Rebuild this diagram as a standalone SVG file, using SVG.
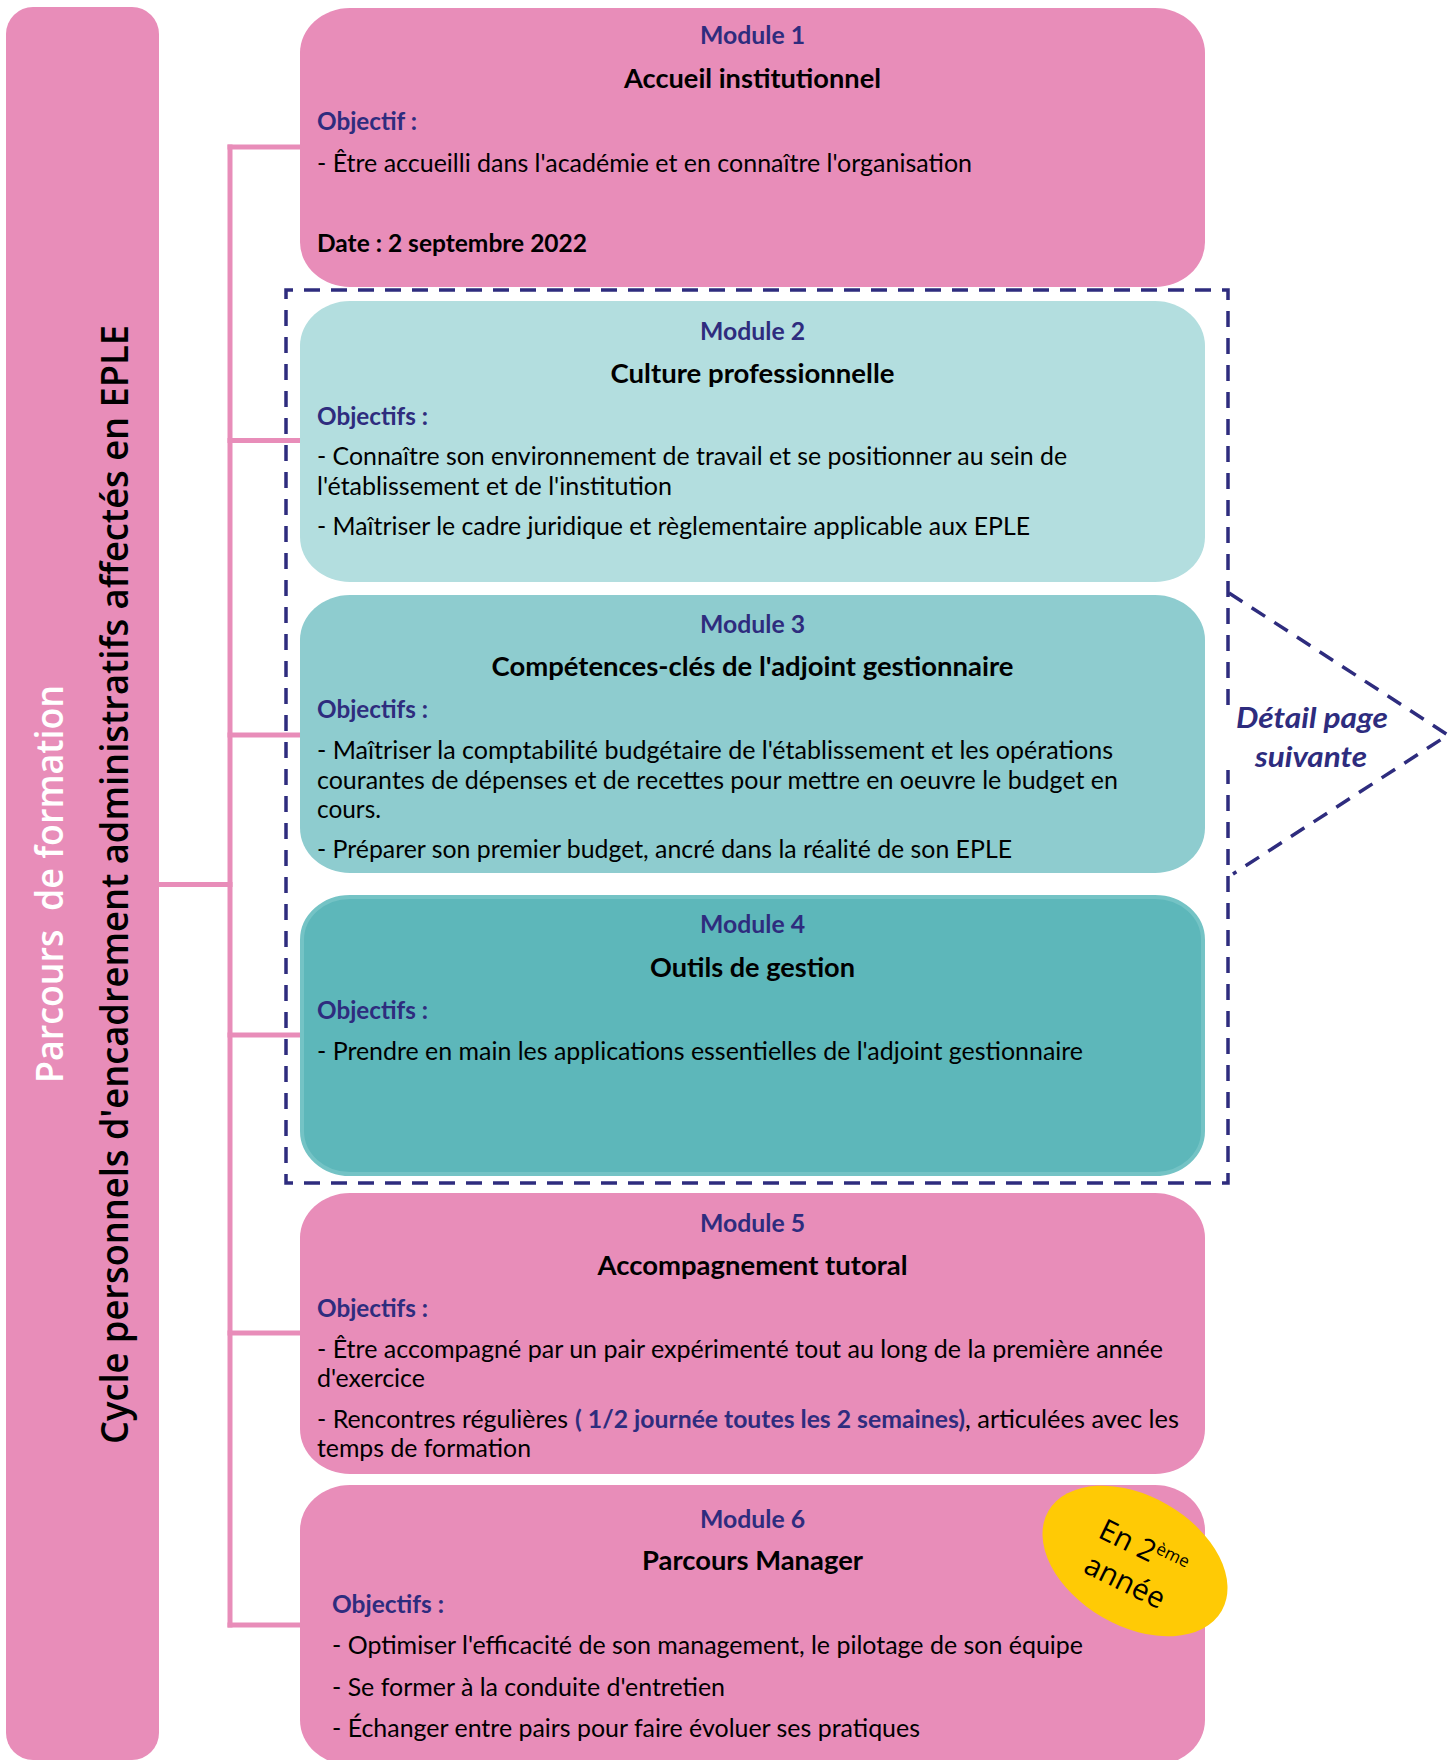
<svg xmlns="http://www.w3.org/2000/svg" width="1452" height="1760" viewBox="0 0 1452 1760">
<style>
.pink{fill:#E88DB9}
.conn{stroke:#E88DB9;stroke-width:5;fill:none;stroke-linecap:square}
.dash{stroke:#2E2C7E;stroke-width:3.5;fill:none;stroke-dasharray:16 11}
.mod{font-family:Lato,"Liberation Sans",sans-serif;font-weight:bold;font-size:24.5px;fill:#2E2C7E;text-anchor:middle}
.ttl{font-family:Lato,"Liberation Sans",sans-serif;font-weight:bold;font-size:27.5px;fill:#000;text-anchor:middle}
.obj{font-family:Lato,"Liberation Sans",sans-serif;font-weight:bold;font-size:24.5px;fill:#2E2C7E}
.txt{font-family:Lato,"Liberation Sans",sans-serif;font-size:24.5px;fill:#000}
.bold{font-weight:bold}
.det{font-family:Lato,"Liberation Sans",sans-serif;font-weight:bold;font-style:italic;font-size:29px;fill:#2E2C7E;text-anchor:middle}
</style>
<rect width="1452" height="1760" fill="#fff"/>

<g id="sidebar">
<rect class="pink" x="6" y="7" width="153" height="1753" rx="27"/>
<text transform="translate(63,884) rotate(-90)" text-anchor="middle" font-family="'Open Sans',sans-serif" font-weight="600" font-size="38" fill="#fff" textLength="398" lengthAdjust="spacingAndGlyphs" xml:space="preserve">Parcours  de formation</text>
<text transform="translate(128,884.5) rotate(-90)" text-anchor="middle" font-family="'Open Sans',sans-serif" font-weight="600" font-size="37" fill="#000" textLength="1119" lengthAdjust="spacingAndGlyphs">Cycle personnels d'encadrement administratifs affectés en EPLE</text>
</g>

<g id="connectors">
<line class="conn" x1="159" y1="884.5" x2="230" y2="884.5"/>
<line class="conn" x1="230" y1="147" x2="230" y2="1625"/>
<line class="conn" x1="230" y1="147" x2="300" y2="147"/>
<line class="conn" x1="230" y1="440.5" x2="300" y2="440.5"/>
<line class="conn" x1="230" y1="735" x2="300" y2="735"/>
<line class="conn" x1="230" y1="1035" x2="300" y2="1035"/>
<line class="conn" x1="230" y1="1333" x2="300" y2="1333"/>
<line class="conn" x1="230" y1="1625" x2="300" y2="1625"/>
</g>

<g id="detail-frame">
<path class="dash" d="M1228,705 V290 H286 V1183 H1228 V770"/>
<path class="dash" d="M1229,593 L1448,735 L1233,874"/>
<text class="det" x="1312" y="728" textLength="152" lengthAdjust="spacingAndGlyphs">Détail page</text>
<text class="det" x="1311" y="767" textLength="112" lengthAdjust="spacingAndGlyphs">suivante</text>
</g>

<g id="module1">
<rect class="pink" x="300" y="8" width="905" height="279" rx="50" ry="45"/>
<text class="mod" x="752.5" y="44" textLength="105" lengthAdjust="spacingAndGlyphs">Module 1</text>
<text class="ttl" x="752.5" y="88" textLength="257" lengthAdjust="spacingAndGlyphs">Accueil institutionnel</text>
<text class="obj" x="317" y="130" textLength="100" lengthAdjust="spacingAndGlyphs">Objectif :</text>
<text class="txt" x="317" y="172" textLength="655" lengthAdjust="spacingAndGlyphs">- Être accueilli dans l'académie et en connaître l'organisation</text>
<text class="txt bold" x="317" y="252" textLength="270" lengthAdjust="spacingAndGlyphs">Date : 2 septembre 2022</text>
</g>

<g id="module2">
<rect x="300" y="301" width="905" height="281" rx="50" ry="45" fill="#B3DEDF"/>
<text class="mod" x="752.5" y="340" textLength="105" lengthAdjust="spacingAndGlyphs">Module 2</text>
<text class="ttl" x="752.5" y="383" textLength="284" lengthAdjust="spacingAndGlyphs">Culture professionnelle</text>
<text class="obj" x="317" y="425" textLength="111" lengthAdjust="spacingAndGlyphs">Objectifs :</text>
<text class="txt" x="317" y="465" textLength="750" lengthAdjust="spacingAndGlyphs">- Connaître son environnement de travail et se positionner au sein de</text>
<text class="txt" x="317" y="495" textLength="355" lengthAdjust="spacingAndGlyphs">l'établissement et de l'institution</text>
<text class="txt" x="317" y="535" textLength="713" lengthAdjust="spacingAndGlyphs">- Maîtriser le cadre juridique et règlementaire applicable aux EPLE</text>
</g>

<g id="module3">
<rect x="300" y="595" width="905" height="278" rx="50" ry="45" fill="#8ECCCF"/>
<text class="mod" x="752.5" y="633" textLength="105" lengthAdjust="spacingAndGlyphs">Module 3</text>
<text class="ttl" x="752.5" y="676" textLength="522" lengthAdjust="spacingAndGlyphs">Compétences-clés de l'adjoint gestionnaire</text>
<text class="obj" x="317" y="718" textLength="111" lengthAdjust="spacingAndGlyphs">Objectifs :</text>
<text class="txt" x="317" y="759" textLength="796" lengthAdjust="spacingAndGlyphs">- Maîtriser la comptabilité budgétaire de l'établissement et les opérations</text>
<text class="txt" x="317" y="789" textLength="801" lengthAdjust="spacingAndGlyphs">courantes de dépenses et de recettes pour mettre en oeuvre le budget en</text>
<text class="txt" x="317" y="818" textLength="64" lengthAdjust="spacingAndGlyphs">cours.</text>
<text class="txt" x="317" y="858" textLength="695" lengthAdjust="spacingAndGlyphs">- Préparer son premier budget, ancré dans la réalité de son EPLE</text>
</g>

<g id="module4">
<rect x="302" y="897" width="901" height="277" rx="48" ry="43" fill="#5DB7BA" stroke="#74C3C5" stroke-width="4"/>
<text class="mod" x="752.5" y="933" textLength="105" lengthAdjust="spacingAndGlyphs">Module 4</text>
<text class="ttl" x="752.5" y="977" textLength="205" lengthAdjust="spacingAndGlyphs">Outils de gestion</text>
<text class="obj" x="317" y="1019" textLength="111" lengthAdjust="spacingAndGlyphs">Objectifs :</text>
<text class="txt" x="317" y="1060" textLength="766" lengthAdjust="spacingAndGlyphs">- Prendre en main les applications essentielles de l'adjoint gestionnaire</text>
</g>

<g id="module5">
<rect class="pink" x="300" y="1193" width="905" height="281" rx="50" ry="45"/>
<text class="mod" x="752.5" y="1232" textLength="105" lengthAdjust="spacingAndGlyphs">Module 5</text>
<text class="ttl" x="752.5" y="1275" textLength="310" lengthAdjust="spacingAndGlyphs">Accompagnement tutoral</text>
<text class="obj" x="317" y="1317" textLength="111" lengthAdjust="spacingAndGlyphs">Objectifs :</text>
<text class="txt" x="317" y="1358" textLength="846" lengthAdjust="spacingAndGlyphs">- Être accompagné par un pair expérimenté tout au long de la première année</text>
<text class="txt" x="317" y="1387" textLength="108" lengthAdjust="spacingAndGlyphs">d'exercice</text>
<text class="txt" x="317" y="1428" textLength="251" lengthAdjust="spacingAndGlyphs">- Rencontres régulières</text>
<text class="obj" x="575" y="1428" textLength="390" lengthAdjust="spacingAndGlyphs">( 1/2 journée toutes les 2 semaines)</text>
<text class="txt" x="965" y="1428" textLength="214" lengthAdjust="spacingAndGlyphs">, articulées avec les</text>
<text class="txt" x="317" y="1457" textLength="214" lengthAdjust="spacingAndGlyphs">temps de formation</text>
</g>

<g id="module6">
<rect class="pink" x="300" y="1485" width="905" height="280" rx="50" ry="45"/>
<text class="mod" x="752.5" y="1528" textLength="105" lengthAdjust="spacingAndGlyphs">Module 6</text>
<text class="ttl" x="752.5" y="1570" textLength="221" lengthAdjust="spacingAndGlyphs">Parcours Manager</text>
<text class="obj" x="332" y="1613" textLength="112" lengthAdjust="spacingAndGlyphs">Objectifs :</text>
<text class="txt" x="332" y="1654" textLength="751" lengthAdjust="spacingAndGlyphs">- Optimiser l'efficacité de son management, le pilotage de son équipe</text>
<text class="txt" x="332" y="1696" textLength="393" lengthAdjust="spacingAndGlyphs">- Se former à la conduite d'entretien</text>
<text class="txt" x="332" y="1737" textLength="588" lengthAdjust="spacingAndGlyphs">- Échanger entre pairs pour faire évoluer ses pratiques</text>
</g>

<g id="badge" transform="translate(1135,1561)">
<ellipse rx="100" ry="65" transform="rotate(30)" fill="#FFCA05"/>
<g transform="rotate(26)" font-family="'Open Sans',sans-serif" fill="#000" text-anchor="middle">
<text x="2" y="-5" font-size="29.5">En 2<tspan font-size="17" dy="-11">ème</tspan></text>
<text x="0" y="33" font-size="29.5">année</text>
</g>
</g>
</svg>
